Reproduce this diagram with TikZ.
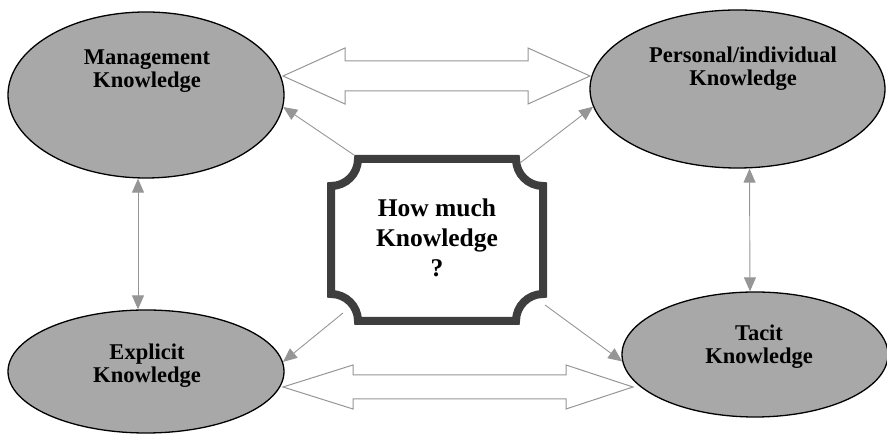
\documentclass[tikz,border=0pt]{standalone}
\usepackage{fontspec}
\setmainfont{Liberation Serif}
\usetikzlibrary{shapes.geometric,arrows.meta}
\definecolor{ellfill}{RGB}{168,168,168}
\definecolor{arrgray}{RGB}{150,150,150}
\definecolor{framegray}{RGB}{62,62,62}
\begin{document}
\begin{tikzpicture}[x=1pt,y=1pt,
  know/.style={ellipse,draw=black,line width=1.3pt,fill=ellfill,inner sep=0pt},
  lbl/.style={font=\bfseries\fontsize{22.5}{23}\selectfont,align=center,text=black,inner sep=0pt},
  qlbl/.style={font=\bfseries\fontsize{25.5}{30}\selectfont,align=center,text=black,inner sep=0pt},
  thinarr/.style={draw=arrgray,line width=0.9pt,-{Triangle[length=14pt,width=12pt,fill=arrgray]}},
  thinboth/.style={draw=arrgray,line width=0.9pt,{Triangle[length=14pt,width=12pt,fill=arrgray]}-{Triangle[length=14pt,width=12pt,fill=arrgray]}},
  blockarr/.style={draw=arrgray,line width=1pt,fill=white,line join=miter},
  frame/.style={draw=framegray,line width=8pt,fill=white}]
\useasboundingbox (0,0) rectangle (887,438);
% ellipses
\node[know,minimum width=276pt,minimum height=166pt] (mgmt) at (146,343) {};
\node[know,minimum width=295pt,minimum height=158pt] (pers) at (737.5,349) {};
\node[know,minimum width=276pt,minimum height=123pt] (expl) at (146,66.5) {};
\node[know,minimum width=266pt,minimum height=125pt] (tacit) at (755,83.5) {};
\node[lbl] (mgmtt) at (147,367) {Management\\Knowledge};
\node[lbl] (perst) at (743,369) {Personal/individual\\Knowledge};
\node[lbl] (explt) at (147,72.5) {Explicit\\Knowledge};
\node[lbl] (tacitt) at (759,91.5) {Tacit\\Knowledge};
% central frame
\draw[frame] (358,279) -- (516,279) arc[start angle=180,end angle=270,radius=27]
  -- (543,144) arc[start angle=90,end angle=180,radius=27]
  -- (358,117) arc[start angle=0,end angle=90,radius=27]
  -- (331,252) arc[start angle=-90,end angle=0,radius=27] -- cycle;
\node[qlbl] (q) at (437,200.5) {How much\\Knowledge\\?};
\coordinate (cTL) at (354,283);
\coordinate (cTR) at (520,275);
\coordinate (cBL) at (343,125);
\coordinate (cBR) at (545,133);
% thin arrows
\draw[thinarr] (cTL) -- (mgmt.-5);
\draw[thinarr] (cTR) -- (pers.187);
\draw[thinarr] (cBL) -- (expl.4);
\draw[thinarr] (cBR) -- (tacit.183);
\draw[thinboth] ([xshift=-8pt]mgmt.south) -- ([xshift=-8pt]expl.north);
\draw[thinboth] ([xshift=12pt]pers.south) -- ([xshift=-5pt]tacit.north);
% block double arrows
\draw[blockarr] (283,362) -- (345,390) -- (345,377) -- (528,377) -- (528,390) -- (590,362)
  -- (528,334) -- (528,347) -- (345,347) -- (345,334) -- cycle;
\draw[blockarr] (283,51) -- (353,73) -- (353,63) -- (566,63) -- (566,73) -- (633,51)
  -- (566,29) -- (566,39) -- (353,39) -- (353,29) -- cycle;
\end{tikzpicture}
\end{document}
